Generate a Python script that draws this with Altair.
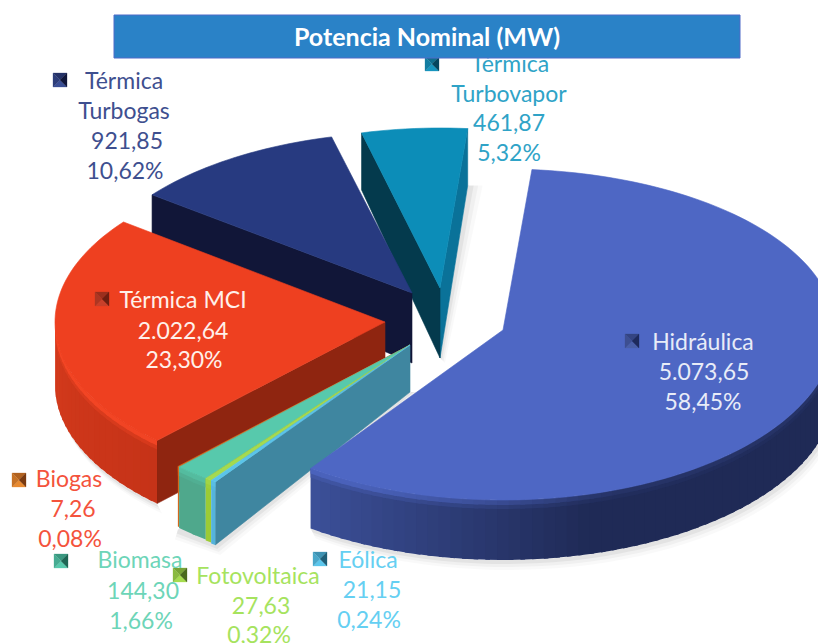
import math
import altair as alt
import pandas as pd

# ---- chart values ----
names = ["Hidráulica", "Eólica", "Fotovoltaica", "Biomasa", "Biogas", "Térmica MCI", "Térmica Turbogas", "Térmica Turbovapor"]
mw_text = ["5.073,65", "21,15", "27,63", "144,30", "7,26", "2.022,64", "921,85", "461,87"]
shares = [58.45, 0.24, 0.32, 1.66, 0.08, 23.30, 10.62, 5.32]
share_text = ["58,45%", "0,24%", "0,32%", "1,66%", "0,08%", "23,30%", "10,62%", "5,32%"]
title_text = "Potencia Nominal (MW)"

# ---- layout / style ----
START = 5.0
# apex x, apex y, rx, ry, depth at apex, depth at rim
geom = {
    "Hidráulica": (503, 330, 332, 170, 58, 60),
    "Eólica": (410, 345, 336, 168, 47, 63),
    "Fotovoltaica": (410, 345, 336, 168, 47, 62),
    "Biomasa": (410, 345, 336, 168, 47, 61),
    "Biogas": (410, 345, 336, 168, 47, 60),
    "Térmica MCI": (385, 322, 330, 164, 62, 63),
    "Térmica Turbogas": (412, 293, 328, 161, 70, 58),
    "Térmica Turbovapor": (440, 288, 320, 160, 70, 57),
}
far_ry = {"Hidráulica": 161}
tops = {"Hidráulica": "#4E67C4", "Eólica": "#5AC4EA", "Fotovoltaica": "#A4DA50", "Biomasa": "#57C9AC",
        "Biogas": "#D9691E", "Térmica MCI": "#EE4020", "Térmica Turbogas": "#273A80", "Térmica Turbovapor": "#0C8DB8"}
faces_start = {"Térmica Turbogas": "#111638", "Térmica Turbovapor": "#043A4D", "Térmica MCI": "#8F2510", "Eólica": "#3F86A0"}
faces_end = {"Térmica Turbovapor": "#0A7299"}
wall_left = {"Hidráulica": "#3C5099", "Eólica": "#54B4DC", "Fotovoltaica": "#9CCB35", "Biomasa": "#4FA88C",
             "Biogas": "#D2691E", "Térmica MCI": "#C63318"}
wall_right = {"Hidráulica": "#1F2A56", "Térmica MCI": "#D43A1C"}
key_col = {"Hidráulica": ("#4A5FA8", "#1E2A5C"), "Eólica": ("#5CC6EC", "#1F5F78"), "Fotovoltaica": ("#A6DC4E", "#4A6A1E"),
           "Biomasa": ("#57C9AC", "#1E6654"), "Biogas": ("#E88A30", "#7A3A10"), "Térmica MCI": ("#C8402A", "#6E1E10"),
           "Térmica Turbogas": ("#3A4E94", "#10163A"), "Térmica Turbovapor": ("#1895BE", "#06465E")}
key_pos = {"Hidráulica": (632, 341), "Eólica": (320, 559), "Fotovoltaica": (180, 575), "Biomasa": (61, 561),
           "Biogas": (19, 480), "Térmica MCI": (102, 299), "Térmica Turbogas": (60, 80), "Térmica Turbovapor": (432, 64)}
label_pos = {
    "Hidráulica": [(703, 343), (704, 373), (703, 403)],
    "Eólica": [(368, 561), (372, 591), (369, 621)],
    "Fotovoltaica": [(258, 577), (261, 607), (259, 636)],
    "Biomasa": [(140, 561), (143, 592), (141, 622)],
    "Biogas": [(69, 480), (73, 510), (70, 540)],
    "Térmica MCI": [(183, 301), (183, 332), (184, 361)],
    "Térmica Turbogas": [(124, 82), (124, 112), (127, 142), (125, 172)],
    "Térmica Turbovapor": [(510, 65), (509, 95), (509, 124), (509, 154)],
}
label_col = {"Hidráulica": "#E8ECF8", "Eólica": "#65CFF2", "Fotovoltaica": "#A6E35E", "Biomasa": "#6DD5B8",
             "Biogas": "#F4533C", "Térmica MCI": "#FFF0EA", "Térmica Turbogas": "#3E4F8F", "Térmica Turbovapor": "#2FA3C7"}
FONT = "Lato"
FS = 23


def pt(g, phi, frac=1.0, drop=0.0):
    ax, ay, rx, ry, _, _ = g
    a = math.radians(phi)
    if math.cos(a) > 0 and g is geom["Hidráulica"]:
        ry = far_ry["Hidráulica"]
    return (ax + frac * rx * math.sin(a), ay - frac * ry * math.cos(a) + drop)


def mix(c1, c2, t):
    a = [int(c1[i:i + 2], 16) for i in (1, 3, 5)]
    b = [int(c2[i:i + 2], 16) for i in (1, 3, 5)]
    return "#%02X%02X%02X" % tuple(round(p + (q - p) * t) for p, q in zip(a, b))


rows = []
pid = [0]


def poly(points, color, opacity=1.0, width=0.6):
    pid[0] += 1
    pts = list(points) + [points[0]]
    for i, (x, y) in enumerate(pts):
        rows.append(dict(p=pid[0], i=i, x=x, y=y, c=color, o=opacity, w=width))


spans = {}
a = START
for n, s in zip(names, shares):
    spans[n] = (a, a + s * 3.6)
    a += s * 3.6


def arc(g, a0, a1, drop=0.0):
    k = max(2, int(abs(a1 - a0) / 1.5))
    return [pt(g, a0 + (a1 - a0) * j / k, 1.0, drop) for j in range(k + 1)]


# soft shadows, only below the front rims
for off, op in ((10, 0.025), (7, 0.035), (4, 0.05)):
    for n in ["Hidráulica", "Térmica MCI"]:
        g = geom[n]
        a0, a1 = spans[n]
        a1 = min(a1, 285)
        r = arc(g, max(a0, 90), a1, g[5])
        poly(r + [(x + off * 0.5, y + off) for x, y in reversed(r)], "#000000", op, 0)
    g = geom["Eólica"]
    p0, p1, p2 = pt(g, spans["Biogas"][1], 1, g[5]), pt(g, spans["Eólica"][0], 1, g[5]), (g[0], g[1] + g[4])
    poly([(p0[0] - off * 0.3, p0[1] + off), (p1[0] + off * 0.5, p1[1] + off), (p2[0] + off, p2[1]), p2, p0], "#000000", op, 0)
    g = geom["Térmica Turbovapor"]
    p0, p1 = pt(g, spans["Térmica Turbovapor"][1], 1, g[5]), (g[0], g[1] + g[4])
    poly([p0, (p0[0] + off * 1.5, p0[1]), (p1[0] + off * 0.5, p1[1] + off * 0.5), p1], "#000000", op, 0)


def draw_slice(n):
    g = geom[n]
    a0, a1 = spans[n]
    apex = (g[0], g[1])
    dA, dR = g[4], g[5]
    apex_low = (g[0], g[1] + dA)
    # radial faces
    if n in faces_end:
        poly([apex, pt(g, a1), pt(g, a1, 1, dR), apex_low], faces_end[n])
    if n in faces_start:
        poly([apex, pt(g, a0), pt(g, a0, 1, dR), apex_low], faces_start[n])
    # outer wall, strips shaded across the visible part; each strip overlaps the next to avoid seams
    if n in wall_left:
        lo, hi = max(a0, 90), min(a1, 270)
        k = max(1, int((hi - lo) / 2))
        layers = ((dR, None), (9, 0.35), (5, 1.0))
        for drop, f in layers:
            for j in reversed(range(k)):
                s0, s1 = lo + (hi - lo) * j / k, lo + (hi - lo) * (j + 1) / k
                mid = (s0 + s1) / 2
                if n == "Hidráulica":
                    t = min(1, max(0, (215 - mid) / 50))
                    strength = min(0.8, max(0.15, (mid - 150) / 70))
                elif n == "Térmica MCI":
                    t = min(1, max(0, (mid - 225) / 45))
                    strength = 0.75
                else:
                    t = 0
                    strength = 0.6
                col = mix(wall_left[n], wall_right.get(n, wall_left[n]), t)
                if f is not None:
                    col = mix(col, tops[n] if n != "Térmica MCI" else "#FF4A28", strength * f)
                e0 = max(lo, s0 - 0.8)
                poly([pt(g, e0), pt(g, s1), pt(g, s1, 1, drop), pt(g, e0, 1, drop)], col, 1, 0)
    # top
    poly([apex] + arc(g, a0, a1), tops[n])


order = ["Térmica Turbovapor", "Térmica Turbogas", "Térmica MCI", "Biogas", "Biomasa", "Fotovoltaica", "Eólica", "Hidráulica"]
for n in order:
    draw_slice(n)

# legend keys: four-sided bevelled squares
for n in names:
    cx, cy = key_pos[n]
    light, dark = key_col[n]
    h = 7
    c = (cx, cy)
    poly([(cx - h, cy - h), (cx + h, cy - h), c], mix(dark, light, 0.5), 1, 0.3)
    poly([(cx - h, cy + h), (cx + h, cy + h), c], light, 1, 0.3)
    poly([(cx - h, cy - h), (cx - h, cy + h), c], mix(dark, light, 0.7), 1, 0.3)
    poly([(cx + h, cy - h), (cx + h, cy + h), c], dark, 1, 0.3)

X = alt.X("x:Q", scale=alt.Scale(domain=[8, 818], nice=False), axis=None)
Y = alt.Y("y:Q", scale=alt.Scale(domain=[643, 8], nice=False), axis=None)

shapes = alt.Chart(pd.DataFrame(rows)).mark_line(clip=True, strokeJoin="round").encode(
    x=X, y=Y, detail="p:N", order="i:Q",
    fill=alt.Fill("c:N", scale=None),
    stroke=alt.Stroke("c:N", scale=None),
    fillOpacity=alt.FillOpacity("o:Q", scale=None),
    strokeOpacity=alt.StrokeOpacity("o:Q", scale=None),
    strokeWidth=alt.StrokeWidth("w:Q", scale=None),
)

txt = []
for n, mw, st in zip(names, mw_text, share_text):
    if n.startswith("Térmica T"):
        lines = ["Térmica", n.split(" ")[1], mw, st]
    else:
        lines = [n, mw, st]
    for (x, y), s in zip(label_pos[n], lines):
        txt.append(dict(x=x, y=y, t=s, c=label_col[n]))

labels = alt.Chart(pd.DataFrame(txt)).mark_text(font=FONT, fontSize=FS, align="center", baseline="middle").encode(
    x=X, y=Y, text="t:N", color=alt.Color("c:N", scale=None))

banner = alt.Chart(pd.DataFrame({"x": [114], "x2": [740], "y": [15], "y2": [58]})).mark_rect(
    color="#2A82C7", stroke="#4F6BC8", strokeWidth=1).encode(x=X, x2="x2:Q", y=Y, y2="y2:Q")
banner_txt = alt.Chart(pd.DataFrame({"x": [427], "y": [38], "t": [title_text]})).mark_text(
    font=FONT, fontSize=25, fontWeight="bold", color="white", align="center", baseline="middle").encode(x=X, y=Y, text="t:N")

chart = alt.layer(shapes, labels, banner, banner_txt).properties(
    width=810, height=635, padding=0, autosize=alt.AutoSizeParams(type="none")
).configure_view(stroke=None)

chart.save("out.html", embed_options={"renderer": "svg", "actions": False})
